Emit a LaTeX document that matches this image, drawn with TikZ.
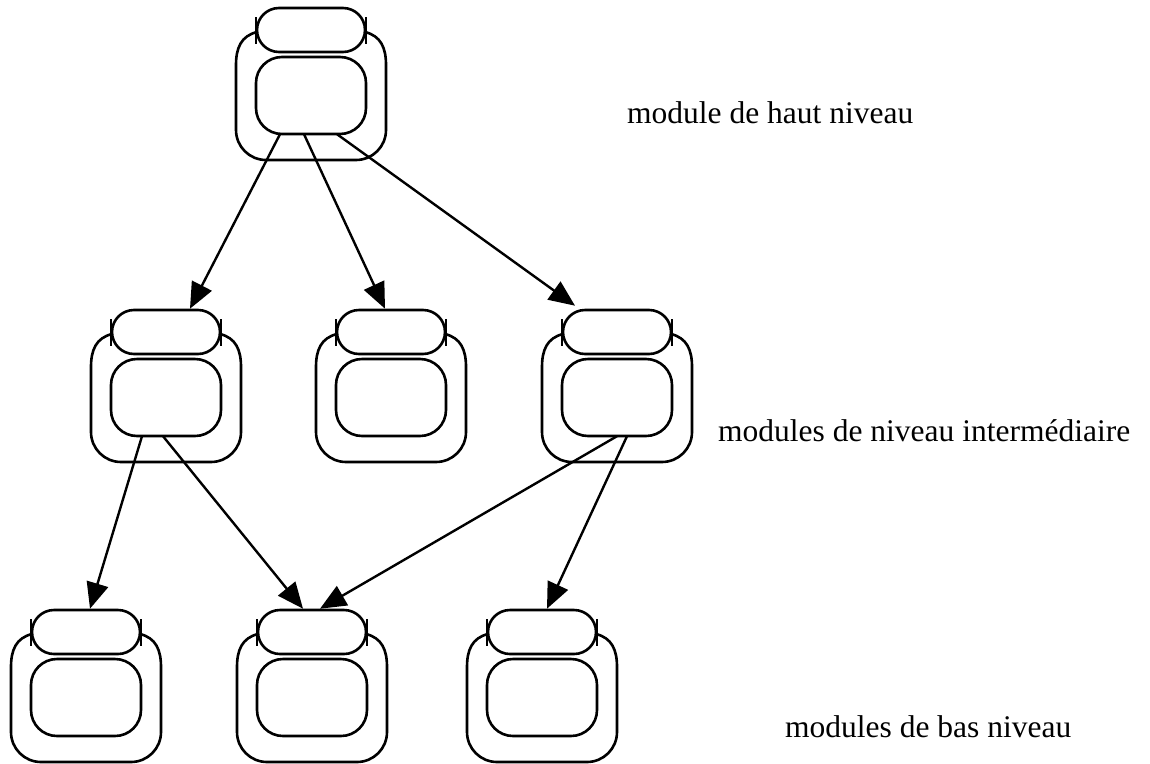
\documentclass[tikz,border=0pt]{standalone}
\usepackage{fontspec}
\setmainfont{Liberation Serif}
\usetikzlibrary{arrows.meta,shapes.misc}

\begin{document}
\begin{tikzpicture}[x=1pt, y=1pt,
  lid/.style={draw, rounded rectangle, rounded rectangle arc length=180, minimum width=108pt, minimum height=44pt, line width=2.6pt, inner sep=0pt},
  core/.style={minimum width=110pt, minimum height=77pt, inner sep=0pt},
  shell/.style={line width=2.6pt},
  dep/.style={-{Triangle[length=26pt, width=22pt]}, line width=2.4pt},
  level/.style={font=\fontsize{31.5}{38}\selectfont, anchor=base west, inner sep=0pt},
  module/.pic={
    % outer shell, open at the top
    \draw[shell] (-54,-24) .. controls (-70,-28) and (-75,-40) .. (-75,-57) -- (-75,-122)
      arc[start angle=180, end angle=270, radius=30] -- (45,-152)
      arc[start angle=270, end angle=360, radius=30] -- (75,-57)
      .. controls (75,-40) and (70,-28) .. (54,-24);
    \node[lid] (-lid) at (0,-22) {};
    \node[core] (-core) at (0,-87.5) {};
    % inner box
    \draw[shell] (-29,-49) -- (29,-49) arc[start angle=90, end angle=0, radius=26] -- (55,-100)
      arc[start angle=0, end angle=-90, radius=26] -- (-29,-126)
      arc[start angle=270, end angle=180, radius=26] -- (-55,-75)
      arc[start angle=180, end angle=90, radius=26] -- cycle;
    % ticks
    \draw[shell] (-55,-9) -- (-55,-36);
    \draw[shell] (55,-9) -- (55,-36);
  },
]
\useasboundingbox (0,0) rectangle (1150,-763);

% ─── Modules ───
\pic (top) at (311,-8) {module};

\pic (ml) at (166,-310) {module};
\pic (mc) at (391,-310) {module};
\pic (mr) at (617,-310) {module};

\pic (bl) at (86,-610) {module};
\pic (bc) at (312,-610) {module};
\pic (br) at (542,-610) {module};

% ─── Dependencies ───
\draw[dep] ([xshift=-31]top-core.south) -- ([xshift=24]ml-lid.north);
\draw[dep] ([xshift=-7]top-core.south) -- ([xshift=-6]mc-lid.north);
\draw[dep] ([xshift=26]top-core.south) -- ([xshift=-42,yshift=3]mr-lid.north);

\draw[dep] ([xshift=-24]ml-core.south) -- ([xshift=4]bl-lid.north);
\draw[dep] ([xshift=-3]ml-core.south) -- ([xshift=-9]bc-lid.north);
\draw[dep] ([xshift=0]mr-core.south) -- ([xshift=8]bc-lid.north);
\draw[dep] ([xshift=10]mr-core.south) -- ([xshift=5]br-lid.north);

% ─── Levels ───
\node[level] (haut) at (627,-123) {module de haut niveau};
\node[level] (inter) at (718,-441) {modules de niveau intermédiaire};
\node[level] (bas) at (785,-737) {modules de bas niveau};

\end{tikzpicture}
\end{document}
